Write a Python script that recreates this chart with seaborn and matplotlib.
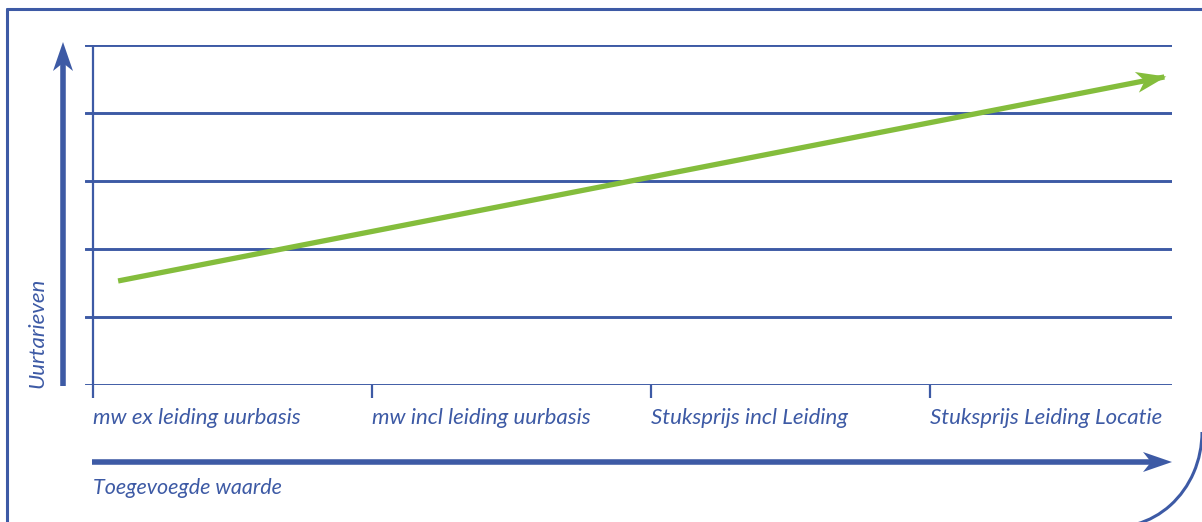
import numpy as np
import pandas as pd
import matplotlib
matplotlib.use("Agg")
import matplotlib.pyplot as plt
import seaborn as sns
from matplotlib.lines import Line2D
from matplotlib.patches import Arc, Polygon

# ---- data ----
categories = ["mw ex leiding uurbasis", "mw incl leiding uurbasis",
              "Stuksprijs incl Leiding", "Stuksprijs Leiding Locatie"]
cat_pos = [0, 1, 2, 3]
trend_x = [0.09, 3.84]
trend_y = [1.53, 4.53]
y_grid = [0, 1, 2, 3, 4, 5]
x_title = "Toegevoegde waarde"
y_title = "Uurtarieven"

BLUE = "#3D5AA5"
GREEN = "#84BD3C"
W, H = 1202, 522

sns.set_theme(style="white")
plt.rcParams["font.family"] = ["Lato", "DejaVu Sans"]

fig = plt.figure(figsize=(W / 100, H / 100), dpi=100)
ax = fig.add_axes([85 / W, 1 - 385 / H, (1172 - 85) / W, (385 - 45) / H])

df = pd.DataFrame({"x": trend_x, "y": trend_y})
sns.lineplot(data=df, x="x", y="y", ax=ax, color=GREEN, lw=3.8,
             solid_capstyle="butt", zorder=5)

ax.set_xlim(-8 / 279, (1172 - 93) / 279)
ax.set_ylim(0, 5)
ax.set_yticks(y_grid)
ax.set_yticklabels([])
ax.set_xticks(cat_pos)
ax.set_xticklabels(categories, ha="left", fontstyle="italic", fontsize=16,
                   color=BLUE)
ax.tick_params(axis="x", length=9.5, width=1.6, color=BLUE, pad=7,
               direction="out", bottom=True)
ax.tick_params(axis="y", length=0)
ax.grid(axis="y", color=BLUE, lw=2.1)
ax.grid(axis="x", visible=False)
for s in ax.spines.values():
    s.set_visible(False)
ax.axvline(0, color=BLUE, lw=1.6, zorder=3)
ax.set_xlabel("")
ax.set_ylabel("")


def head(tip, ang, length, half, notch, color, zorder=10):
    """Notched arrow head in display pixels (y up)."""
    tx, ty = tip
    ux, uy = np.cos(ang), np.sin(ang)
    px, py = -uy, ux
    bx, by = tx - ux * length, ty - uy * length
    nx, ny = tx - ux * (length - notch), ty - uy * (length - notch)
    pts = [(tx, ty), (bx + px * half, by + py * half), (nx, ny),
           (bx - px * half, by - py * half)]
    fig.add_artist(Polygon(pts, closed=True, color=color, lw=0,
                           transform=None, zorder=zorder))


# green arrow head
fig.canvas.draw()
p0 = ax.transData.transform((trend_x[0], trend_y[0]))
p1 = ax.transData.transform((trend_x[-1], trend_y[-1]))
ang = np.arctan2(p1[1] - p0[1], p1[0] - p0[0])
tip = (p1[0] + np.cos(ang) * 2, p1[1] + np.sin(ang) * 2)
head(tip, ang, 30, 10.5, 8, GREEN)

# frame
def fx(x):
    return x / W

def fy(y):
    return 1 - y / H

fig.add_artist(Line2D([fx(7), fx(7)], [fy(9), fy(H + 5)], color=BLUE, lw=2.2,
                      transform=fig.transFigure))
fig.add_artist(Line2D([fx(7), fx(W + 5)], [fy(9), fy(9)], color=BLUE, lw=2.2,
                      transform=fig.transFigure))
fig.add_artist(Arc((1115, H - 432), 174, 190, theta1=-100, theta2=0,
                   color=BLUE, lw=2.2, transform=None))

# axis arrows (shaft + notched head)
fig.add_artist(Line2D([fx(63), fx(63)], [fy(386), fy(62)], color=BLUE,
                      lw=4.0, solid_capstyle="butt",
                      transform=fig.transFigure))
head((63, H - 42), np.pi / 2, 29, 10, 8, BLUE)
fig.add_artist(Line2D([fx(92), fx(1152)], [fy(462), fy(462)], color=BLUE,
                      lw=4.0, solid_capstyle="butt",
                      transform=fig.transFigure))
head((1172, H - 462), 0.0, 29, 10, 8, BLUE)

fig.text(fx(37), fy(388), y_title, rotation=90, ha="center", va="bottom",
         fontstyle="italic", fontsize=16, color=BLUE)
fig.text(fx(93), fy(488), x_title, ha="left", va="center",
         fontstyle="italic", fontsize=15.5, color=BLUE)

fig.savefig("out.png", dpi=100)
